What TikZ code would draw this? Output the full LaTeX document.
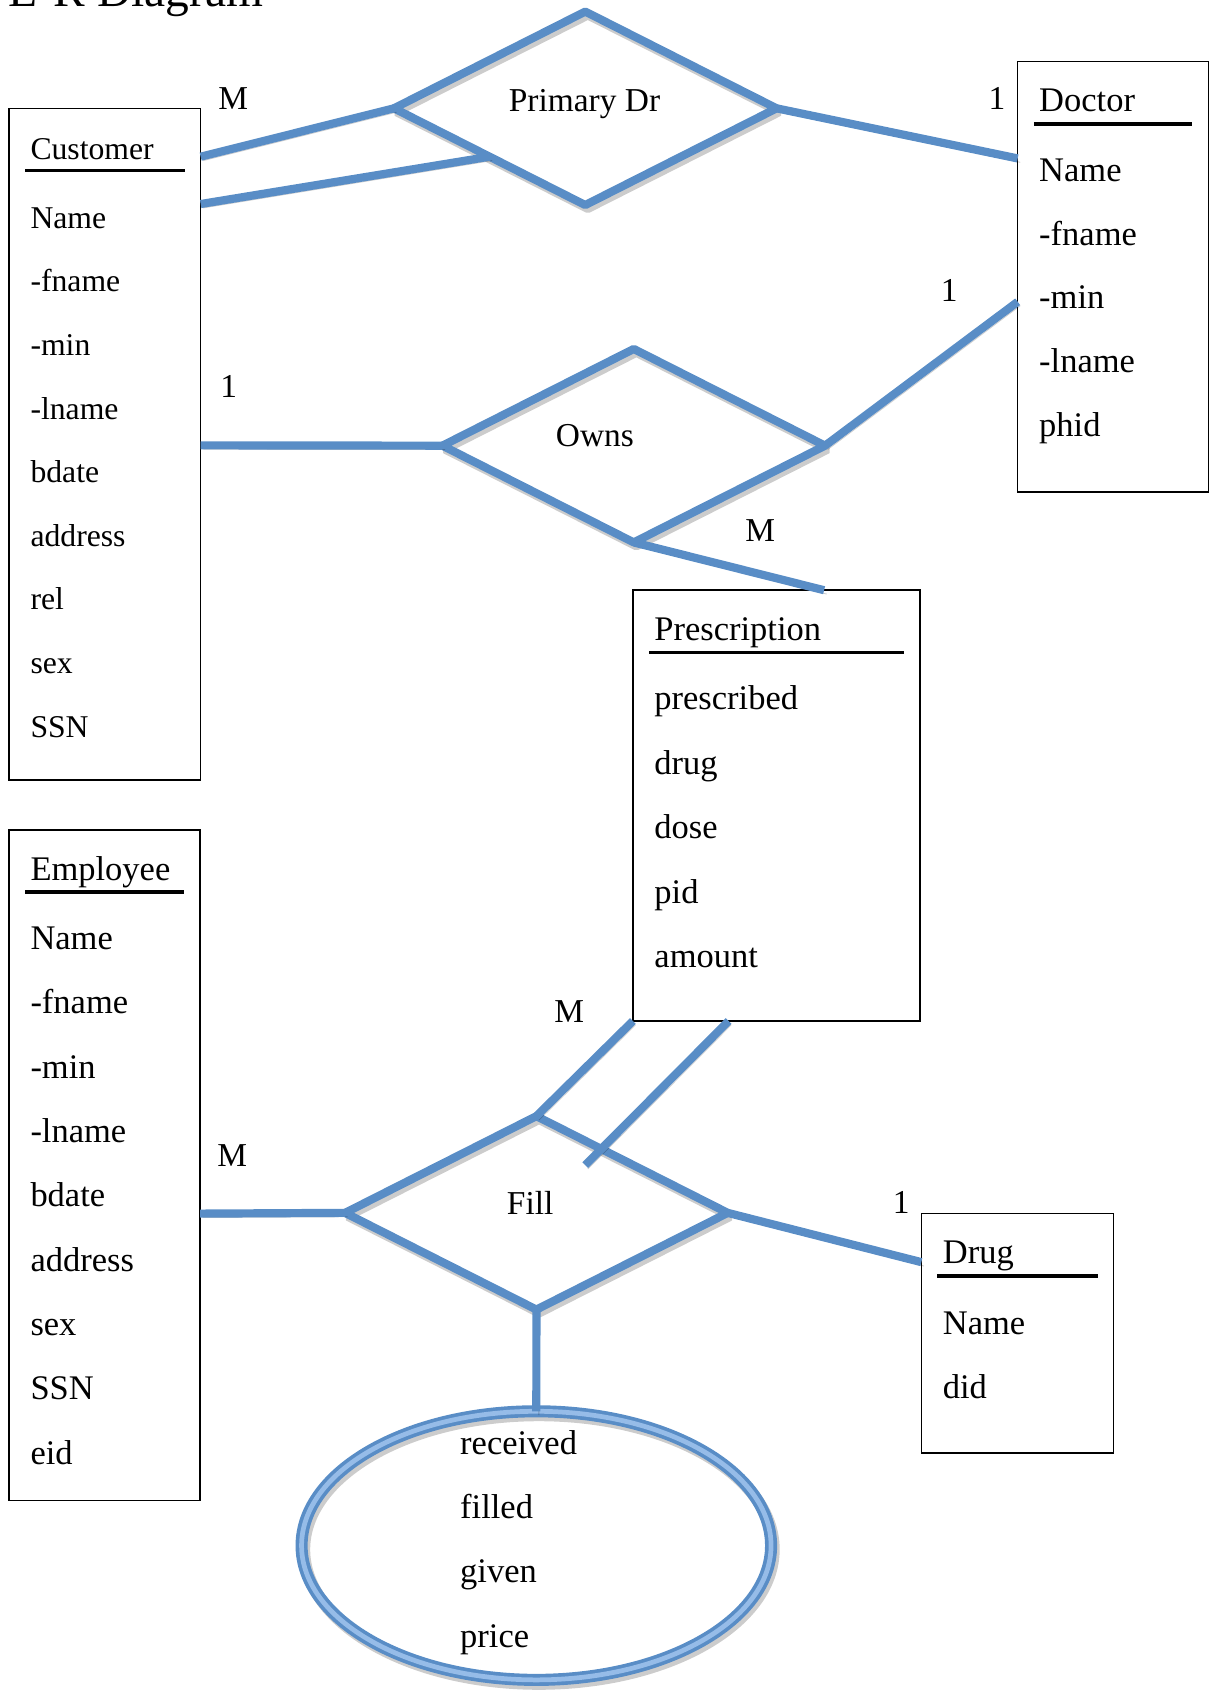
\documentclass[tikz,border=0pt]{standalone}
\usepackage{fontspec}
\setmainfont{Liberation Serif}
\usetikzlibrary{shapes.geometric,calc}

\definecolor{erblue}{RGB}{89,141,198}
\definecolor{erlight}{RGB}{150,188,232}

\begin{document}
\begin{tikzpicture}[
    x=0.5pt, y=-0.5pt,
    every node/.style={inner sep=0pt, outer sep=0pt},
    entity/.style={draw, line width=0.7pt, rectangle, anchor=north west},
    attr/.style={anchor=base west, font=\fontsize{16}{19}\selectfont},
    tattr/.style={anchor=base west, font=\fontsize{14.7}{17}\selectfont},
    rlabel/.style={anchor=base, font=\fontsize{15.5}{18}\selectfont},
    card/.style={anchor=base, font=\fontsize{15.5}{18}\selectfont},
    uline/.style={line width=1.7pt, black},
    softshadow/.style={preaction={draw=black, opacity=0.2,
        transform canvas={shift={(1.2pt,-1.8pt)}}}},
    relline/.style={draw=erblue, line width=3.8pt, line join=bevel, softshadow},
    rel/.style={diamond, relline, minimum width=177.5pt, minimum height=89.75pt},
    fillell/.style={ellipse, draw=erblue, line width=5.6pt,
        minimum width=217.8pt, minimum height=124.6pt, softshadow,
        postaction={draw=erlight, line width=2.2pt}}
]

\useasboundingbox (0,0) rectangle (1122,1568);

%======================
% Title
%======================

\node[anchor=base west, font=\fontsize{22}{26}\selectfont] (title)
  at (8.3,6.2) {E-R Diagram};

%======================
% Entity boxes
%======================

\node[entity, minimum width=88.95pt, minimum height=311.65pt] (cust)  at (8.3,100.6)   {};
\node[entity, minimum width=88.65pt, minimum height=311pt]    (emp)   at (8.3,770)     {};
\node[entity, minimum width=88.5pt,  minimum height=199.55pt] (doc)   at (944.2,57.2)  {};
\node[entity, minimum width=133.3pt, minimum height=199.85pt] (presc) at (587.2,547.6) {};
\node[entity, minimum width=89.25pt, minimum height=111.1pt]  (drug)  at (854.8,1126)  {};

% Customer
\node[tattr] (cust-title) at (28.3,147.9) {Customer};
\draw[uline] ($(cust.north west)+(15,57.7)$) -- ($(cust.north east)+(-15,57.7)$);
\foreach [count=\i] \a in {Name,-fname,-min,-lname,bdate,address,rel,sex,SSN}
    \node[tattr] (cust-\i) at (28.3,{211.9+59.0*(\i-1)}) {\a};

% Employee
\node[attr] (emp-title) at (28.3,816.7) {Employee};
\draw[uline] ($(emp.north west)+(15,57.7)$) -- ($(emp.north east)+(-15,57.7)$);
\foreach [count=\i] \a in {Name,-fname,-min,-lname,bdate,address,sex,SSN,eid}
    \node[attr] (emp-\i) at (28.3,{881+59.7*(\i-1)}) {\a};

% Doctor
\node[attr] (doc-title) at (964.2,103.6) {Doctor};
\draw[uline] ($(doc.north west)+(15,57.7)$) -- ($(doc.north east)+(-15,57.7)$);
\foreach [count=\i] \a in {Name,-fname,-min,-lname,phid}
    \node[attr] (doc-\i) at (964.2,{168.6+59.0*(\i-1)}) {\a};

% Prescription
\node[attr] (presc-title) at (607.2,594) {Prescription};
\draw[uline] ($(presc.north west)+(15,57.7)$) -- ($(presc.north east)+(-15,57.7)$);
\foreach [count=\i] \a in {prescribed,drug,dose,pid,amount}
    \node[attr] (presc-\i) at (607.2,{658.3+59.95*(\i-1)}) {\a};

% Drug
\node[attr] (drug-title) at (874.8,1172.4) {Drug};
\draw[uline] ($(drug.north west)+(15,57.7)$) -- ($(drug.north east)+(-15,57.7)$);
\foreach [count=\i] \a in {Name,did}
    \node[attr] (drug-\i) at (874.8,{1238+59.7*(\i-1)}) {\a};

%======================
% Relationships
%======================

\node[rel] (pd)   at (543,100.5)    {};
\node[rel] (own)  at (588,413.5)    {};
\node[rel] (fill) at (497.7,1125.3) {};

\node[rlabel] (pd-label)   at (542.3,103)  {Primary Dr};
\node[rlabel] (own-label)  at (552,414.5)  {Owns};
\node[rlabel] (fill-label) at (491.9,1127) {Fill};

% attributes of Fill
\node[fillell] (fillattr) at (497.6,1434) {};
\foreach [count=\i] \a in {received,filled,given,price}
    \node[attr] (fillattr-\i) at (427,{1349.5+59.6*(\i-1)}) {\a};

%======================
% Connectors
%======================

\coordinate (fill-x) at (543,1081);

% Customer -- Primary Dr -- Doctor
\draw[relline] ($(cust.north east)+(0,44.8)$) -- (pd.west);
\draw[relline] ($(cust.north east)+(0,88.7)$) -- ($(pd.west)!0.5!(pd.south)$);
\draw[relline] (pd.east) -- ($(doc.north west)+(0,89.8)$);

% Customer -- Owns -- Doctor, Prescription
\draw[relline] ($(cust.north east)+(0,312.6)$) -- (own.west);
\draw[relline] (own.east) -- ($(doc.north west)+(0,222.8)$);
\draw[relline] (own.south) -- ($(presc.north west)+(177.4,0)$);

% Prescription, Employee -- Fill -- Drug
\draw[relline] (presc.south west) -- (fill.north);
\draw[relline] ($(presc.south west)+(88.8,0)$) -- (fill-x);
\draw[relline] ($(emp.north east)+(0,356)$) -- (fill.west);
\draw[relline] (fill.east) -- ($(drug.north west)+(0,45)$);
\draw[relline] (fill.south) -- (fillattr.north);

%======================
% Cardinalities
%======================

\node[card] (card-pd-cust)    at (216.3,102)   {M};
\node[card] (card-pd-doc)     at (925,102)     {1};
\node[card] (card-own-cust)   at (212.3,368.7) {1};
\node[card] (card-own-doc)    at (880.8,280)   {1};
\node[card] (card-own-presc)  at (705.4,502.7) {M};
\node[card] (card-fill-presc) at (528.2,949)   {M};
\node[card] (card-fill-emp)   at (215.4,1082.7) {M};
\node[card] (card-fill-drug)  at (836.2,1126)  {1};

\end{tikzpicture}
\end{document}
